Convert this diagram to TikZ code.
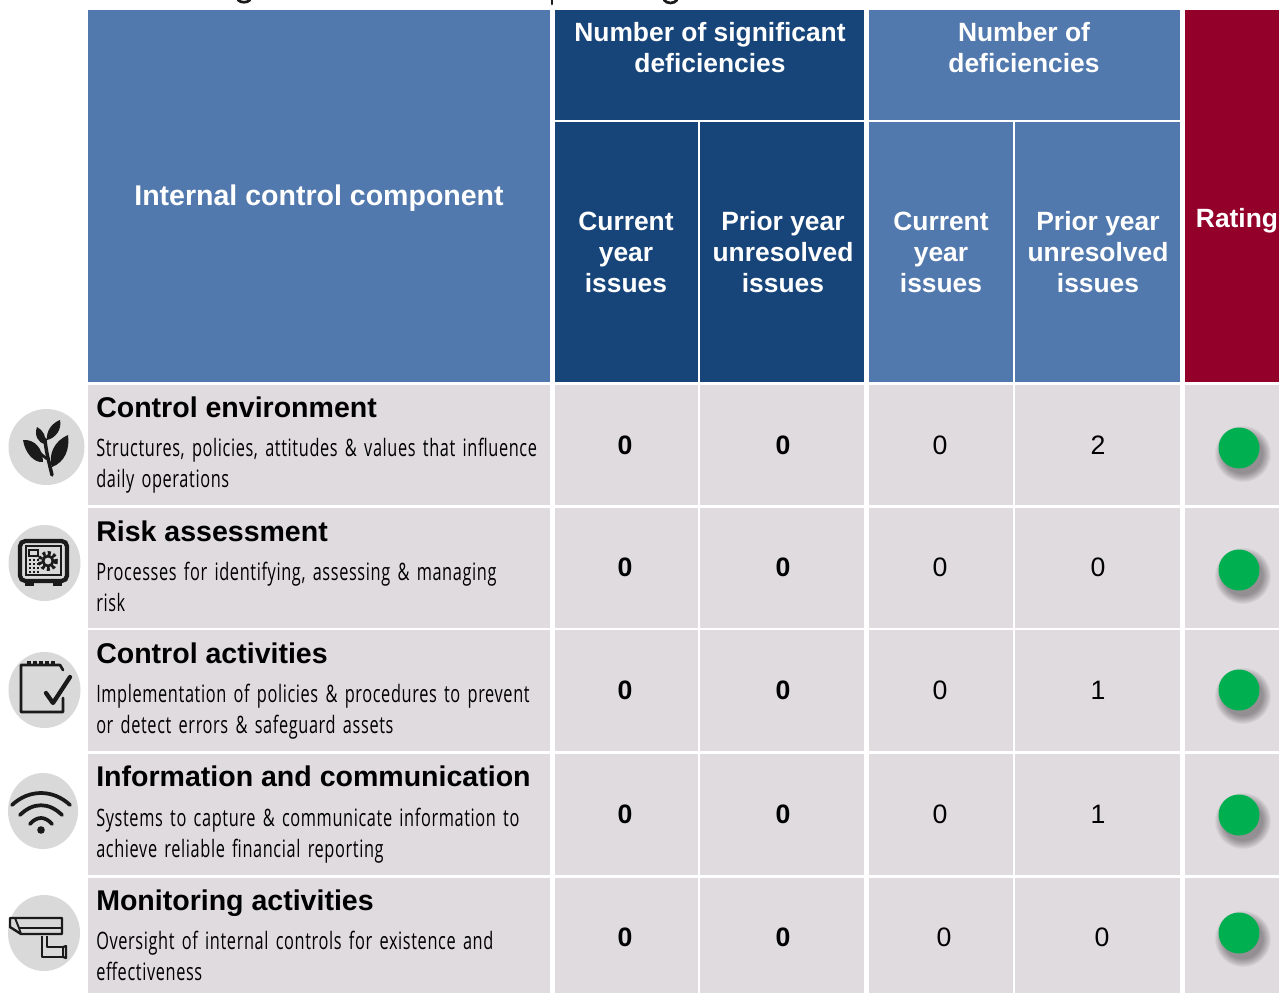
\documentclass[tikz,border=0pt]{standalone}
\usepackage{fontspec}
\setmainfont{Liberation Sans}
\newfontfamily\narrowfont[FakeStretch=0.68,LetterSpace=2.6,WordSpace=1.5]{Open Sans}
\usetikzlibrary{calc}
\definecolor{lblue}{HTML}{5279AD}
\definecolor{dblue}{HTML}{17457A}
\definecolor{wine}{HTML}{930029}
\definecolor{rowgray}{HTML}{DFDBDF}
\definecolor{icongray}{HTML}{D9D9D9}
\definecolor{okgreen}{HTML}{00AF50}
\definecolor{ink}{HTML}{1A1A1A}
\tikzset{
  hdr/.style={font=\fontsize{19.8}{23.2}\selectfont\bfseries,text=white,align=center,inner sep=0pt},
  hdrbig/.style={font=\fontsize{21.4}{23.2}\selectfont\bfseries,text=white,align=center,inner sep=0pt},
  title/.style={font=\fontsize{21.4}{24}\selectfont\bfseries,text=black,anchor=base west,inner sep=0pt},
  desc/.style={font=\narrowfont\fontsize{18}{23.3}\selectfont,text=black,anchor=north west,align=left,inner sep=0pt},
  bnum/.style={font=\fontsize{20}{22}\selectfont\bfseries,text=black,inner sep=0pt},
  num/.style={font=\fontsize{20}{22}\selectfont,text=black,inner sep=0pt},
  iconbg/.style={fill=icongray,draw=none},
  iconline/.style={draw=ink,line width=2pt,line cap=round,line join=round},
  cutmark/.style={draw=ink,line width=2pt,line cap=round},
}
\newcommand{\cellbox}[6]{\fill[#6] (#2,#3) rectangle (#4,#5); \coordinate (#1) at ($(#2,#3)!.5!(#4,#5)$);}
\newcommand{\gdot}[3]{%
  \foreach \r in {28,27,26,25,24,23,22,21,20}{\fill[black,opacity=.045] (#2+4,#3+6) circle (\r);}
  \fill[okgreen] (#2,#3) circle (20.5);
  \coordinate (#1) at (#2,#3);}
\begin{document}
\begin{tikzpicture}[x=0.75pt,y=-0.75pt]
\useasboundingbox (0,0) rectangle (1279,993);
\fill[white] (0,0) rectangle (1279,993);
% cut-off descenders at the top edge
\draw[cutmark] (238,0) .. controls (241,3) and (247,3) .. (250,0);
\draw[cutmark] (552,0) -- (552,4);
\draw[cutmark] (664,0) .. controls (667,4) and (674,4) .. (677,0);
% header
\cellbox{hcomp}{88}{10}{550}{382}{lblue}
\cellbox{hsig}{555}{10}{864}{120}{dblue}
\cellbox{hdef}{869}{10}{1180}{120}{lblue}
\cellbox{hsa}{555}{122}{698}{382}{dblue}
\cellbox{hsb}{700}{122}{864}{382}{dblue}
\cellbox{hda}{869}{122}{1013}{382}{lblue}
\cellbox{hdb}{1015}{122}{1180}{382}{lblue}
\cellbox{hrate}{1185}{10}{1279}{382}{wine}
\node[hdrbig] (tcomp) at (319,198) {Internal control component};
\node[hdr] (tsig) at (710,48) {Number of significant\\deficiencies};
\node[hdr] (tdef) at (1024,48) {Number of\\deficiencies};
\node[hdr] (t1) at (626,252) {Current\\year\\issues};
\node[hdr] (t2) at (783,252) {Prior year\\unresolved\\issues};
\node[hdr] (t3) at (941,252) {Current\\year\\issues};
\node[hdr] (t4) at (1098,252) {Prior year\\unresolved\\issues};
\node[hdr] (t5) at (1237,221) {Rating};
% rows
\foreach \t/\b/\n in {385/505/a,508/628/b,630/751/c,754/875/d,878/993/e}{
  \fill[rowgray] (88,\t) rectangle (550,\b);
  \fill[rowgray] (555,\t) rectangle (698,\b);
  \fill[rowgray] (700,\t) rectangle (864,\b);
  \fill[rowgray] (869,\t) rectangle (1013,\b);
  \fill[rowgray] (1015,\t) rectangle (1180,\b);
  \fill[rowgray] (1185,\t) rectangle (1279,\b);
}
% row text
\node[title] (ra) at (96,417) {Control environment};
\node[desc] (da) at (96,438) {Structures, policies, attitudes \& values that influence\\daily operations};
\node[title] (rb) at (96,541) {Risk assessment};
\node[desc] (db) at (96,562) {Processes for identifying, assessing \& managing\\risk};
\node[title] (rc) at (96,663) {Control activities};
\node[desc] (dc) at (96,684) {Implementation of policies \& procedures to prevent\\or detect errors \& safeguard assets};
\node[title] (rd) at (96,786) {Information and communication};
\node[desc] (dd) at (96,808) {Systems to capture \& communicate information to\\achieve reliable financial reporting};
\node[title] (re) at (96,910) {Monitoring activities};
\node[desc] (de) at (96,931) {Oversight of internal controls for existence and\\effectiveness};
% numbers
\foreach \y/\p/\q/\r/\s/\n in {445/0/0/0/2/a,567/0/0/0/0/b,690/0/0/0/1/c,814/0/0/0/1/d}{
  \node[bnum] (n1\n) at (625,\y) {\p};
  \node[bnum] (n2\n) at (783,\y) {\q};
  \node[num] (n3\n) at (940,\y) {\r};
  \node[num] (n4\n) at (1098,\y) {\s};
}
\node[bnum] (n1e) at (625,937) {0};
\node[bnum] (n2e) at (783,937) {0};
\node[num] (n3e) at (944,937) {0};
\node[num] (n4e) at (1102,937) {0};
% rating dots
\gdot{ga}{1239}{448}
\gdot{gb}{1239}{570}
\gdot{gc}{1239}{690}
\gdot{gd}{1239}{815}
\gdot{ge}{1239}{933}
% icon 1: plant
\fill[iconbg] (46.5,447) circle (38);
\begin{scope}[shift={(47,447)}]
  \draw[ink,line width=2.6pt,line cap=round] (5,28) .. controls (2,15) and (-1,5) .. (-2,-8);
  \draw[ink,line width=2pt] (3,18) -- (12,4);
  \draw[ink,line width=2pt] (0,12) -- (-12,2);
  \fill[ink] (-24,-7) .. controls (-12,-8) and (-4,2) .. (-4,15) .. controls (-13,16) and (-22,6) .. (-24,-7) -- cycle;
  \fill[ink] (21,-12) .. controls (23,2) and (18,15) .. (5,20) .. controls (1,8) and (7,-6) .. (21,-12) -- cycle;
  \fill[ink] (-10,-20) .. controls (-4,-17) and (0,-10) .. (-2,-3) .. controls (-9,-4) and (-13,-12) .. (-10,-20) -- cycle;
  \fill[ink] (13,-27) .. controls (15,-18) and (9,-9) .. (0,-7) .. controls (-1,-16) and (5,-24) .. (13,-27) -- cycle;
\end{scope}
% icon 2: safe
\fill[iconbg] (44.5,563) ellipse (36 and 38);
\begin{scope}[shift={(43,561)}]
  \draw[ink,line width=3.2pt,rounded corners=4pt] (-23,-20) rectangle (24,20);
  \draw[ink,line width=1.4pt] (-17,-15) rectangle (18,14);
  \fill[ink] (-18,20) rectangle (-9,25);
  \fill[ink] (10,20) rectangle (19,25);
  \draw[ink,line width=3pt,dash pattern=on 2.2pt off 1.8pt] (5,0) circle (8);
  \draw[ink,line width=2pt] (5,0) circle (5);
  \foreach \x in {-13,-9,-5}{\foreach \yy in {-1,3,7,11}{\fill[ink] (\x-1.3,\yy-1.3) rectangle (\x+1.3,\yy+1.3);}}
  \draw[ink,line width=1.2pt] (-14,-11) rectangle (-5,-5);
\end{scope}
% icon 3: note with check
\fill[iconbg] (44.5,690) ellipse (36 and 38);
\begin{scope}[shift={(43,690)}]
  \draw[iconline] (20,8) -- (20,22) -- (-22,22) -- (-22,-25) -- (17,-25) -- (20,-20);
  \foreach \x in {-14,-8,-2,4,10}{\draw[ink,line width=2.4pt] (\x,-29) -- (\x,-24);}
  \draw[ink,line width=3.2pt,line cap=round,line join=round] (3,3) -- (10,13) -- (27,-13);
\end{scope}
% icon 4: wifi
\fill[iconbg] (43,811) ellipse (35 and 38);
\begin{scope}[shift={(41,810)}]
  \draw[ink,line width=2.8pt,line cap=round] (-29,-5) .. controls (-12,-21) and (12,-21) .. (29,-5);
  \draw[ink,line width=2.8pt,line cap=round] (-21,5) .. controls (-8,-8) and (8,-8) .. (21,5);
  \draw[ink,line width=2.8pt,line cap=round] (-11,14) .. controls (-4,6) and (4,6) .. (11,14);
  \fill[ink] (0,20) circle (3.8);
\end{scope}
% icon 5: camera
\fill[iconbg] (44,933) ellipse (36 and 38);
\begin{scope}[shift={(43,933)}]
  \draw[ink,line width=1.8pt,line join=round] (-33,-15) -- (19,-15) -- (19,1) -- (-22,1) -- (-33,-6) -- cycle;
  \draw[ink,line width=1.4pt] (-24,-5) -- (19,-5);
  \draw[ink,line width=1.4pt] (-28,-15) -- (-24,-5) -- (-22,1);
  \draw[ink,line width=1.8pt,line join=round] (-1,3) -- (-1,24) -- (20,24) -- (20,14) -- (4,14) -- (4,3);
  \draw[ink,line width=1.6pt,line join=round] (20,14) -- (23,13) -- (23,25) -- (20,24);
\end{scope}
\end{tikzpicture}
\end{document}
